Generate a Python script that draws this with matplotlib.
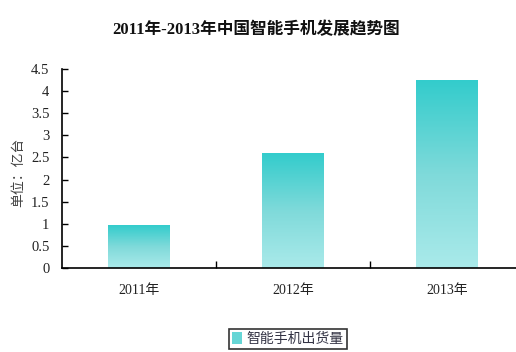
import numpy as np
import matplotlib.pyplot as plt
from matplotlib.colors import LinearSegmentedColormap
from matplotlib.patches import Patch

plt.rcParams['font.family'] = ['Liberation Serif', 'Noto Sans CJK SC', 'DejaVu Sans']

years = ['2011年', '2012年', '2013年']
shipments = [0.97, 2.6, 4.25]
yticks = [0, 0.5, 1, 1.5, 2, 2.5, 3, 3.5, 4, 4.5]
ytick_labels = ['0', '0.5', '1', '1.5', '2', '2.5', '3', '3.5', '4', '4.5']

top_color = '#33CCCC'
bottom_color = '#AAEAEA'
grad = LinearSegmentedColormap.from_list('g', [bottom_color, '#7FDADA', top_color])

fig = plt.figure(figsize=(5.16, 3.52), dpi=100)
W, H = 516, 352
ax = fig.add_axes([62 / W, (H - 268) / H, 462 / W, 199 / H])

x = np.arange(len(years))
bars = ax.bar(x, shipments, width=0.4, color='none', edgecolor='none')

# gradient fill, per bar, dark on top
g = np.linspace(0, 1, 256).reshape(-1, 1)
for b in bars:
    x0, w, h = b.get_x(), b.get_width(), b.get_height()
    im = ax.imshow(g, cmap=grad, aspect='auto', origin='lower',
                   extent=[x0, x0 + w, 0, h], zorder=2)
    im.set_clip_path(b)

ax.set_xlim(-0.5, 2.5)
ax.set_ylim(0, 4.5)
ax.set_yticks(yticks)
ax.set_yticklabels(ytick_labels)
ax.set_xticks([0.5, 1.5])
ax.set_xticklabels([])
ax.tick_params(axis='x', direction='in', length=5, width=1)
ax.tick_params(axis='y', direction='in', length=4, width=1, labelsize=10.5, pad=9)
for lab in ax.get_yticklabels():
    lab.set_color('#222222')

for i, yr in enumerate(years):
    ax.text(i, -0.52, yr, ha='center', va='center', fontsize=10, color='#222222')

ax.spines['top'].set_visible(False)
ax.spines['right'].set_visible(False)
ax.spines['left'].set_linewidth(1.2)
ax.spines['bottom'].set_linewidth(1.2)

fig.text(18 / W, 1 - 172 / H, '单位：亿台', rotation=90, ha='center', va='center',
         fontsize=10, color='#444444', family=['Noto Sans CJK SC'])
fig.text(256 / W, 1 - 30 / H, '2011年-2013年中国智能手机发展趋势图', ha='center', va='center',
         fontsize=12, fontweight='bold', color='#111111',
         family=['Liberation Serif', 'Noto Sans CJK SC'])

handle = Patch(facecolor='#66D6D6', edgecolor='none')
leg = fig.legend([handle], ['智能手机出货量'], loc='center', bbox_to_anchor=(288 / W, 1 - 339 / H),
                 frameon=True, fancybox=False, edgecolor='black',
                 handlelength=0.7, handleheight=0.9, handletextpad=0.3, borderpad=0.25,
                 prop={'family': ['Noto Sans CJK SC'], 'size': 10})
leg.get_frame().set_linewidth(1.2)
for t in leg.get_texts():
    t.set_color('#333344')

fig.savefig('out.png', dpi=100)
